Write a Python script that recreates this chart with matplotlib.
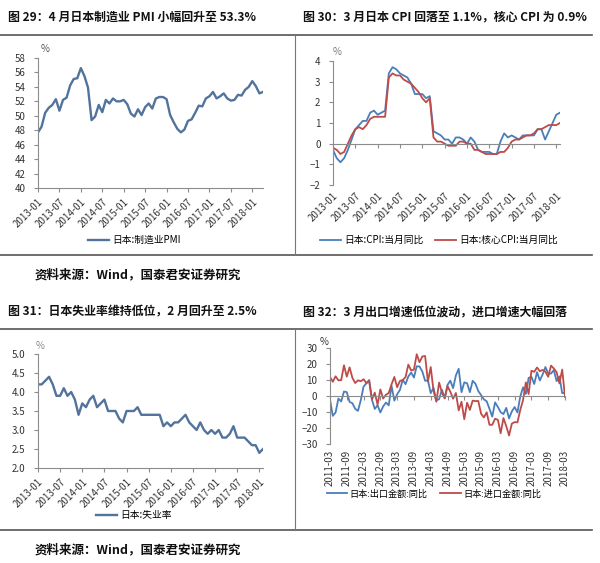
import matplotlib
matplotlib.use("Agg")
import matplotlib.pyplot as plt
from matplotlib.lines import Line2D

plt.rcParams['font.family'] = ['Noto Sans CJK SC', 'DejaVu Sans']

# ---------------- data ----------------
pmi_labels = ["2013-01", "2013-07", "2014-01", "2014-07", "2015-01", "2015-07",
              "2016-01", "2016-07", "2017-01", "2017-07", "2018-01"]
pmi = [47.7, 48.5, 50.4, 51.1, 51.5, 52.3, 50.7, 52.2, 52.5, 54.2, 55.1, 55.2,
       56.6, 55.5, 53.9, 49.4, 49.9, 51.5, 50.5, 52.2, 51.7, 52.4, 52.0, 52.0,
       52.2, 51.6, 50.3, 49.9, 50.9, 50.1, 51.2, 51.7, 51.0, 52.4, 52.6, 52.6,
       52.3, 50.1, 49.1, 48.2, 47.7, 48.1, 49.3, 49.5, 50.4, 51.4, 51.3, 52.4,
       52.7, 53.3, 52.4, 52.7, 53.1, 52.4, 52.1, 52.2, 52.9, 52.8, 53.6, 54.0,
       54.8, 54.1, 53.1, 53.3]

cpi_labels = pmi_labels
cpi = [-0.3, -0.7, -0.9, -0.7, -0.3, 0.2, 0.7, 0.9, 1.1, 1.1, 1.5, 1.6,
       1.4, 1.5, 1.6, 3.4, 3.7, 3.6, 3.4, 3.3, 3.2, 2.9, 2.4, 2.4,
       2.4, 2.2, 2.3, 0.6, 0.5, 0.4, 0.2, 0.2, 0.0, 0.3, 0.3, 0.2,
       0.0, 0.3, 0.1, -0.3, -0.4, -0.4, -0.4, -0.5, -0.5, 0.1, 0.5, 0.3,
       0.4, 0.3, 0.2, 0.4, 0.4, 0.4, 0.4, 0.7, 0.7, 0.2, 0.6, 1.0,
       1.4, 1.5]
core_cpi = [-0.2, -0.3, -0.5, -0.4, 0.0, 0.4, 0.7, 0.8, 0.7, 0.9, 1.2, 1.3,
            1.3, 1.3, 1.3, 3.2, 3.4, 3.3, 3.3, 3.1, 3.0, 2.9, 2.7, 2.5,
            2.2, 2.0, 2.2, 0.3, 0.1, 0.1, 0.0, -0.1, -0.1, -0.1, 0.1, 0.1,
            0.0, 0.0, -0.3, -0.3, -0.4, -0.5, -0.5, -0.5, -0.5, -0.4, -0.4, -0.2,
            0.1, 0.2, 0.2, 0.3, 0.4, 0.4, 0.5, 0.7, 0.7, 0.8, 0.9, 0.9,
            0.9, 1.0]

unemp_labels = pmi_labels
unemp = [4.2, 4.2, 4.3, 4.4, 4.2, 3.9, 3.9, 4.1, 3.9, 4.0, 3.8, 3.4,
         3.7, 3.6, 3.8, 3.9, 3.6, 3.7, 3.8, 3.5, 3.5, 3.5, 3.3, 3.2,
         3.5, 3.5, 3.5, 3.6, 3.4, 3.4, 3.4, 3.4, 3.4, 3.4, 3.1, 3.2,
         3.1, 3.2, 3.2, 3.3, 3.4, 3.2, 3.1, 3.0, 3.2, 3.0, 2.9, 3.0,
         2.9, 3.0, 2.8, 2.8, 2.9, 3.1, 2.8, 2.8, 2.8, 2.7, 2.6, 2.6,
         2.4, 2.5]

trade_labels = ["2011-03", "2011-09", "2012-03", "2012-09", "2013-03", "2013-09",
                "2014-03", "2014-09", "2015-03", "2015-09", "2016-03", "2016-09",
                "2017-03", "2017-09", "2018-03"]
exports = [-2.2, -12.4, -10.3, -1.6, -3.4, 2.8, 2.4, -3.7, -4.5, -8.0,
           -9.3, -2.7, 5.9, 7.9, 10.0, -2.3, -8.1, -5.8, -10.3, -6.5, -4.1, -5.8,
           6.4, -2.9, 1.1, 3.8, 10.1, 7.4, 12.2, 14.7, 11.5, 18.6, 18.4, 15.3,
           9.5, 9.8, 1.8, 5.1, -2.7, -2.0, 3.9, -1.3, 6.9, 9.6, 4.9, 12.9,
           17.0, 2.4, 8.5, 8.0, 2.4, 9.5, 7.6, 3.1, 0.6, -2.1, -3.3, -8.0,
           -12.9, -4.0, -6.8, -10.1, -11.3, -7.4, -14.0, -9.6, -6.9, -10.3, -0.4, 5.4,
           1.3, 11.3, 12.0, 7.5, 14.9, 9.7, 13.4, 18.1, 14.1, 14.0, 16.2, 9.3,
           12.2, 1.8, 2.1]
imports = [11.9, 8.9, 12.3, 9.8, 9.9, 19.2, 12.1, 17.9, 11.4, 8.1,
           9.8, 9.2, 10.5, 8.1, 9.3, -2.2, 2.1, -5.4, 4.1, -1.6, 0.8, 1.9,
           7.3, 11.9, 5.5, 9.4, 10.0, 11.8, 19.6, 16.0, 16.5, 26.1, 21.1, 24.7,
           25.0, 9.0, 18.1, 3.4, -3.6, 8.4, 2.3, -1.5, 6.2, 2.7, -1.7, 1.9,
           -9.0, -3.6, -14.5, -4.2, -8.7, -2.9, -3.2, -3.1, -11.1, -13.4, -10.2, -18.0,
           -18.0, -14.2, -14.9, -23.3, -13.8, -18.8, -24.7, -17.3, -16.3, -16.5, -8.8, -2.6,
           8.5, 1.2, 15.8, 15.1, 17.8, 15.5, 16.3, 15.2, 12.0, 19.0, 17.2, 14.9,
           7.9, 16.5, -0.6]

titles = ["图 29：4 月日本制造业 PMI 小幅回升至 53.3%",
          "图 30：3 月日本 CPI 回落至 1.1%，核心 CPI 为 0.9%",
          "图 31：日本失业率维持低位，2 月回升至 2.5%",
          "图 32：3 月出口增速低位波动，进口增速大幅回落"]
source = "资料来源：Wind，国泰君安证券研究"

# ---------------- figure ----------------
W, H = 600, 563
fig = plt.figure(figsize=(W / 100, H / 100), dpi=100)

def fx(x):
    return x / W

def fy(y):
    return 1 - y / H

def add_axes(l, t, r, b):
    return fig.add_axes([fx(l), fy(b), fx(r) - fx(l), fy(t) - fy(b)])

BLUE1 = '#52739C'
BLUE = '#4A7EBB'
RED = '#BE4B48'
SP = '#8c8c8c'
TXT = '#333333'
FS = 7

def style(ax):
    for s in ['top', 'right']:
        ax.spines[s].set_visible(False)
    for s in ['left', 'bottom']:
        ax.spines[s].set_color(SP)
        ax.spines[s].set_linewidth(0.8)
    ax.tick_params(axis='both', colors=SP, labelcolor=TXT, labelsize=FS,
                   length=3, width=0.8, direction='out')
    ax.tick_params(axis='y', pad=6)

def rot_labels(labels, rot=45):
    for lb in labels:
        lb.set_rotation(rot)
        lb.set_ha('right')
        lb.set_va('top')
        lb.set_rotation_mode('anchor')

# Panel 1: PMI
ax1 = add_axes(38, 58, 263, 188)
style(ax1)
x1 = list(range(len(pmi)))
ax1.plot(x1, pmi, color=BLUE1, lw=1.7, label="日本:制造业PMI")
ax1.set_xlim(0, len(pmi) - 1)
ax1.set_ylim(40, 58)
ax1.set_yticks(range(40, 59, 2))
ax1.set_xticks(range(0, 61, 6))
ax1.set_xticklabels(pmi_labels)
rot_labels(ax1.get_xticklabels())
ax1.text(0.01, 1.045, "%", transform=ax1.transAxes, fontsize=FS, color='#555555')
ax1.legend(loc='center', bbox_to_anchor=(fx(134), fy(240)), bbox_transform=fig.transFigure,
           frameon=False, fontsize=FS, handlelength=2.2, handletextpad=0.3)

# Panel 2: CPI
ax2 = add_axes(333, 61, 560, 185)
style(ax2)
x2 = list(range(len(cpi)))
ax2.plot(x2, cpi, color=BLUE, lw=1.3, label="日本:CPI:当月同比")
ax2.plot(x2, core_cpi, color=RED, lw=1.3, label="日本:核心CPI:当月同比")
ax2.set_xlim(0, len(cpi) - 1)
ax2.set_ylim(-2, 4)
ax2.set_yticks(range(-2, 5))
ax2.spines['bottom'].set_position(('data', 0))
ax2.set_xticks(range(0, 61, 6))
ax2.tick_params(axis='x', labelbottom=False)
sec2 = ax2.secondary_xaxis('bottom')
sec2.set_xticks(range(0, 61, 6))
sec2.set_xticklabels(cpi_labels)
sec2.tick_params(length=0, labelsize=FS, labelcolor=TXT, pad=4)
sec2.spines['bottom'].set_visible(False)
rot_labels(sec2.get_xticklabels())
ax2.text(0.0, 1.05, "%", transform=ax2.transAxes, fontsize=FS, color='#777777')
ax2.legend(loc='center', bbox_to_anchor=(fx(439), fy(240)), bbox_transform=fig.transFigure,
           frameon=False, fontsize=FS, ncol=2, handlelength=2.2, handletextpad=0.3,
           columnspacing=1.2)

# Panel 3: Unemployment
ax3 = add_axes(38, 354, 263, 468)
style(ax3)
x3 = list(range(len(unemp)))
ax3.plot(x3, unemp, color=BLUE1, lw=1.7, label="日本:失业率")
ax3.set_xlim(0, len(unemp) - 1)
ax3.set_ylim(2.0, 5.0)
ax3.set_yticks([2.0, 2.5, 3.0, 3.5, 4.0, 4.5, 5.0])
ax3.set_yticklabels(["%.1f" % v for v in [2.0, 2.5, 3.0, 3.5, 4.0, 4.5, 5.0]])
ax3.set_xticks(range(0, 61, 6))
ax3.set_xticklabels(unemp_labels)
rot_labels(ax3.get_xticklabels())
ax3.text(-0.01, 1.04, "%", transform=ax3.transAxes, fontsize=FS, color='#888888')
ax3.legend(loc='center', bbox_to_anchor=(fx(134), fy(515)), bbox_transform=fig.transFigure,
           frameon=False, fontsize=FS, handlelength=2.2, handletextpad=0.3)

# Panel 4: Trade
ax4 = add_axes(330, 348, 565, 444)
style(ax4)
x4 = list(range(len(exports)))
ax4.plot(x4, exports, color=BLUE, lw=1.3, label="日本:出口金额:同比")
ax4.plot(x4, imports, color=RED, lw=1.3, label="日本:进口金额:同比")
ax4.set_xlim(0, len(exports) - 1)
ax4.set_ylim(-30, 30)
ax4.set_yticks(range(-30, 31, 10))
ax4.spines['bottom'].set_position(('data', 0))
ax4.set_xticks(range(0, 85, 6))
ax4.tick_params(axis='x', labelbottom=False)
sec4 = ax4.secondary_xaxis('bottom')
sec4.set_xticks(range(0, 85, 6))
sec4.set_xticklabels(trade_labels)
sec4.tick_params(length=0, labelsize=FS, labelcolor=TXT, pad=4)
sec4.spines['bottom'].set_visible(False)
for lb in sec4.get_xticklabels():
    lb.set_rotation(90)
    lb.set_ha('center')
    lb.set_va('top')
ax4.text(-0.045, 1.03, "%", transform=ax4.transAxes, fontsize=FS, color='#333333')
ax4.legend(loc='center', bbox_to_anchor=(fx(434), fy(494)), bbox_transform=fig.transFigure,
           frameon=False, fontsize=6.6, ncol=2, handlelength=2.2, handletextpad=0.3,
           columnspacing=1.4)

# ---------------- titles, frames, sources ----------------
for (tx, ty), t in zip([(8, 17), (303, 17), (8, 312), (303, 312)], titles):
    fig.text(fx(tx), fy(ty), t, fontsize=8.6, fontweight='bold', va='center', ha='left',
             color='#111111')

for ty in [35, 255, 329, 530]:
    fig.add_artist(Line2D([0, fx(592)], [fy(ty), fy(ty)], transform=fig.transFigure,
                          color='#555555', lw=1.2))
for (t, b) in [(35, 255), (329, 530)]:
    fig.add_artist(Line2D([fx(295), fx(295)], [fy(t), fy(b)], transform=fig.transFigure,
                          color='#777777', lw=0.8))

for sy in [275, 550]:
    fig.text(fx(35), fy(sy), source, fontsize=9, fontweight='bold', va='center', ha='left',
             color='#111111')

fig.savefig("out.png", dpi=100)
